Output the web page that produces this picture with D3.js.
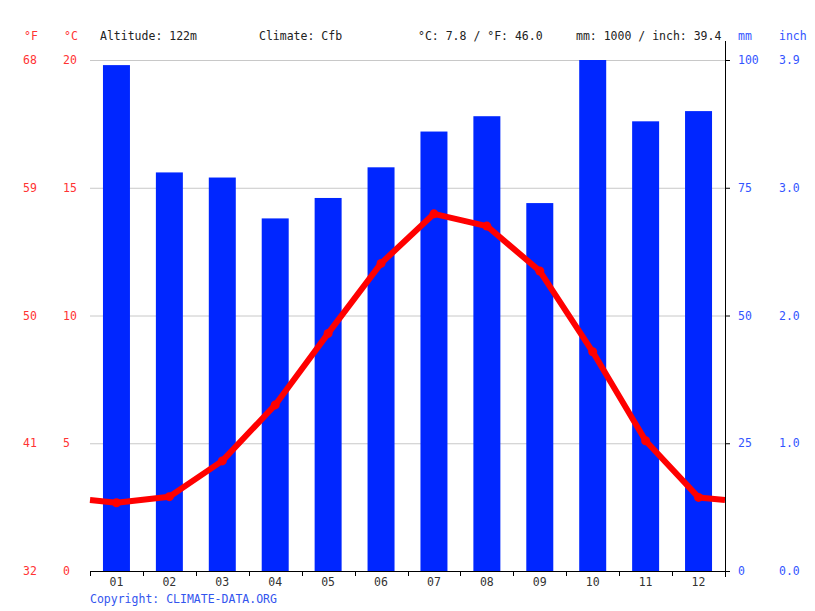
<!DOCTYPE html>
<html>
<head>
<meta charset="utf-8">
<script src="https://cdn.jsdelivr.net/npm/d3@7"></script>
<style>
  body { margin: 0; background: #fff; }
  svg text { font-family: "DejaVu Sans Mono", monospace; font-size: 11.5px; }
</style>
</head>
<body>
<div id="chart"></div>
<script>
// monthly data
var months = ["01", "02", "03", "04", "05", "06", "07", "08", "09", "10", "11", "12"];
var precip = [99, 78, 77, 69, 73, 79, 86, 89, 72, 100, 88, 90]; // mm
var temp = [2.67, 2.91, 4.31, 6.5, 9.3, 12.04, 13.98, 13.5, 11.74, 8.58, 5.1, 2.88]; // °C
var cTicks = [0, 5, 10, 15, 20];
var fLabels = ["32", "41", "50", "59", "68"];
var mmTicks = [0, 25, 50, 75, 100];
var inchLabels = ["0.0", "1.0", "2.0", "3.0", "3.9"];
var header = ["Altitude: 122m", "Climate: Cfb", "°C: 7.8 / °F: 46.0", "mm: 1000 / inch: 39.4"];

var width = 815, height = 611;
var pLeft = 90, pRight = 725, pTop = 60, pBottom = 571;

var svg = d3.select("#chart").append("svg")
    .attr("width", width)
    .attr("height", height);

var x = d3.scaleBand().domain(months).range([pLeft, pRight]);
var yT = d3.scaleLinear().domain([0, 20]).range([pBottom, pTop]);
var yP = d3.scaleLinear().domain([0, 100]).range([pBottom, pTop]);

//grid lines
svg.selectAll(".grid")
    .data(cTicks.slice(1))
    .enter()
    .append("line")
    .attr("x1", pLeft).attr("x2", pRight)
    .attr("y1", function (d) { return yT(d) + 0.5; })
    .attr("y2", function (d) { return yT(d) + 0.5; })
    .style("stroke", "#c8c8c8")
    .style("stroke-width", 1);

//precipitation bars
svg.selectAll(".bar")
    .data(precip)
    .enter()
    .append("rect")
    .attr("x", function (d, i) { return x(months[i]) + x.bandwidth() * 0.245; })
    .attr("width", x.bandwidth() * 0.51)
    .attr("y", function (d) { return yP(d); })
    .attr("height", function (d) { return pBottom - yP(d); })
    .attr("fill", "#0026ff");

//temperature line, carried out to the edges at the Dec/Jan mean
var edge = (temp[0] + temp[11]) / 2;
var pts = [[pLeft, edge]];
temp.forEach(function (d, i) { pts.push([x(months[i]) + x.bandwidth() / 2, d]); });
pts.push([pRight, edge]);

svg.append("path")
    .datum(pts)
    .attr("d", d3.line().x(function (d) { return d[0]; }).y(function (d) { return yT(d[1]); }))
    .attr("fill", "none")
    .style("stroke", "#ff0000")
    .style("stroke-width", 6)
    .style("stroke-linejoin", "round");

svg.selectAll(".dot")
    .data(temp)
    .enter()
    .append("circle")
    .attr("cx", function (d, i) { return x(months[i]) + x.bandwidth() / 2; })
    .attr("cy", function (d) { return yT(d); })
    .attr("r", 4.5)
    .attr("fill", "#ff0000");

//bottom axis
var xAxis = svg.append("g")
    .attr("transform", "translate(0," + pBottom + ")");
xAxis.append("line")
    .attr("x1", pLeft).attr("x2", pRight + 1)
    .attr("y1", 0.5).attr("y2", 0.5)
    .style("stroke", "#000");
xAxis.selectAll(".tick")
    .data(d3.range(13))
    .enter()
    .append("line")
    .attr("x1", function (d) { return Math.round(pLeft + d * x.step()) + 0.5; })
    .attr("x2", function (d) { return Math.round(pLeft + d * x.step()) + 0.5; })
    .attr("y1", 0).attr("y2", 5)
    .style("stroke", "#000");
xAxis.selectAll(".lab")
    .data(months)
    .enter()
    .append("text")
    .attr("x", function (d) { return x(d) + x.bandwidth() / 2; })
    .attr("y", 15)
    .attr("text-anchor", "middle")
    .attr("fill", "#333")
    .text(function (d) { return d; });

//right axis line
svg.append("line")
    .attr("x1", pRight + 0.5).attr("x2", pRight + 0.5)
    .attr("y1", 41).attr("y2", pBottom + 6)
    .style("stroke", "#000");
svg.selectAll(".rtick")
    .data(mmTicks)
    .enter()
    .append("line")
    .attr("x1", pRight).attr("x2", pRight + 5)
    .attr("y1", function (d) { return yP(d) + 0.5; })
    .attr("y2", function (d) { return yP(d) + 0.5; })
    .style("stroke", "#000");

//left labels
svg.selectAll(".flab")
    .data(cTicks)
    .enter()
    .append("text")
    .attr("x", 23)
    .attr("y", function (d) { return yT(d) + 4; })
    .attr("fill", "#ff3333")
    .text(function (d, i) { return fLabels[i]; });
svg.selectAll(".clab")
    .data(cTicks)
    .enter()
    .append("text")
    .attr("x", 63)
    .attr("y", function (d) { return yT(d) + 4; })
    .attr("fill", "#ff3333")
    .text(function (d) { return d; });

//right labels
svg.selectAll(".mmlab")
    .data(mmTicks)
    .enter()
    .append("text")
    .attr("x", 738)
    .attr("y", function (d) { return yP(d) + 4; })
    .attr("fill", "#3355ff")
    .text(function (d) { return d; });
svg.selectAll(".inlab")
    .data(mmTicks)
    .enter()
    .append("text")
    .attr("x", 779)
    .attr("y", function (d) { return yP(d) + 4; })
    .attr("fill", "#3355ff")
    .text(function (d, i) { return inchLabels[i]; });

//header
svg.append("text").attr("x", 24).attr("y", 40).attr("fill", "#ff3333").text("°F");
svg.append("text").attr("x", 64).attr("y", 40).attr("fill", "#ff3333").text("°C");
svg.append("text").attr("x", 738).attr("y", 40).attr("fill", "#3355ff").text("mm");
svg.append("text").attr("x", 779).attr("y", 40).attr("fill", "#3355ff").text("inch");
var hx = [100, 259, 418, 576];
svg.selectAll(".head")
    .data(header)
    .enter()
    .append("text")
    .attr("x", function (d, i) { return hx[i]; })
    .attr("y", 40)
    .attr("fill", "#222")
    .text(function (d) { return d; });

svg.append("text")
    .attr("x", 90).attr("y", 603)
    .attr("fill", "#3355ee")
    .text("Copyright: CLIMATE-DATA.ORG");
</script>
</body>
</html>
